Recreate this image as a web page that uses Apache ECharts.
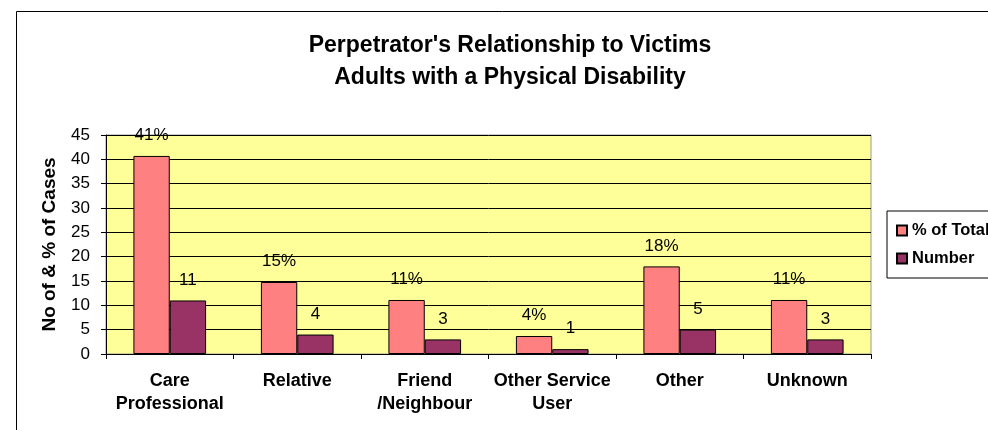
<!DOCTYPE html>
<html>
<head>
<meta charset="utf-8">
<script src="https://cdn.jsdelivr.net/npm/echarts@6/dist/echarts.min.js"></script>
<style>
  html, body { margin: 0; padding: 0; background: #ffffff; }
  #chart { width: 988px; height: 430px; }
</style>
</head>
<body>
<div id="chart"></div>
<script>
// data
const categories = ['Care\nProfessional', 'Relative', 'Friend\n/Neighbour', 'Other Service\nUser', 'Other', 'Unknown'];
const pctValues = [40.7, 14.8, 11.1, 3.7, 18, 11.1];
const numValues = [11, 4, 3, 1, 5, 3];
const seriesNames = ['% of Total', 'Number'];

const font = 'Arial, "Liberation Sans", sans-serif';

const myChart = echarts.init(document.getElementById('chart'));
const option = {
    animation: false,
    backgroundColor: '#ffffff',
    title: {
        text: "Perpetrator's Relationship to Victims\nAdults with a Physical Disability",
        left: 505,
        textAlign: 'center',
        top: 25,
        textStyle: { fontFamily: font, fontSize: 23, fontWeight: 'bold', color: '#000', lineHeight: 32 }
    },
    // outer chart frame (runs off the right and bottom edges)
    graphic: [{
        type: 'rect',
        shape: { x: 16.5, y: 11.5, width: 1000, height: 500 },
        style: { fill: 'none', stroke: '#000', lineWidth: 1 },
        silent: true
    }],
    legend: {
        orient: 'vertical',
        left: 887,
        top: 211,
        padding: [11, 20, 11, 9],
        itemWidth: 10,
        itemHeight: 10,
        itemGap: 11,
        icon: 'rect',
        borderColor: '#000',
        borderWidth: 1,
        backgroundColor: '#fff',
        textStyle: { fontFamily: font, fontSize: 16.5, fontWeight: 'bold', color: '#000' },
        data: seriesNames
    },
    grid: {
        left: 106,
        right: 117,
        top: 135,
        bottom: 76,
        show: true,
        backgroundColor: '#FFFF99',
        borderColor: '#999999',
        borderWidth: 1
    },
    xAxis: {
        type: 'category',
        data: categories,
        axisLine: { lineStyle: { color: '#000' } },
        axisTick: { show: true, length: 5, lineStyle: { color: '#000' } },
        axisLabel: {
            interval: 0,
            margin: 15,
            fontFamily: font, fontSize: 18, fontWeight: 'bold', color: '#000', lineHeight: 23.5
        }
    },
    yAxis: {
        type: 'value',
        min: 0,
        max: 45,
        interval: 5,
        name: 'No of & % of Cases',
        nameLocation: 'middle',
        nameGap: 47,
        nameTextStyle: { fontFamily: font, fontSize: 19, fontWeight: 'bold', color: '#000' },
        axisLine: { show: true, lineStyle: { color: '#000' } },
        axisTick: { show: true, length: 5, lineStyle: { color: '#000' } },
        axisLabel: { margin: 16, fontFamily: font, fontSize: 17, color: '#000' },
        splitLine: { lineStyle: { color: '#000', width: 1 } }
    },
    series: [
        {
            name: seriesNames[0],
            type: 'bar',
            data: pctValues,
            barGap: '0%',
            barCategoryGap: '43%',
            itemStyle: { color: '#FF8080', borderColor: '#000', borderWidth: 1 },
            label: {
                show: true,
                position: 'top',
                distance: 12,
                fontFamily: font, fontSize: 17, color: '#000',
                formatter: p => Math.round(p.value) + '%'
            }
        },
        {
            name: seriesNames[1],
            type: 'bar',
            data: numValues,
            itemStyle: { color: '#993366', borderColor: '#000', borderWidth: 1 },
            label: {
                show: true,
                position: 'top',
                distance: 12,
                fontFamily: font, fontSize: 17, color: '#000'
            }
        }
    ]
};
myChart.setOption(option);
</script>
</body>
</html>
